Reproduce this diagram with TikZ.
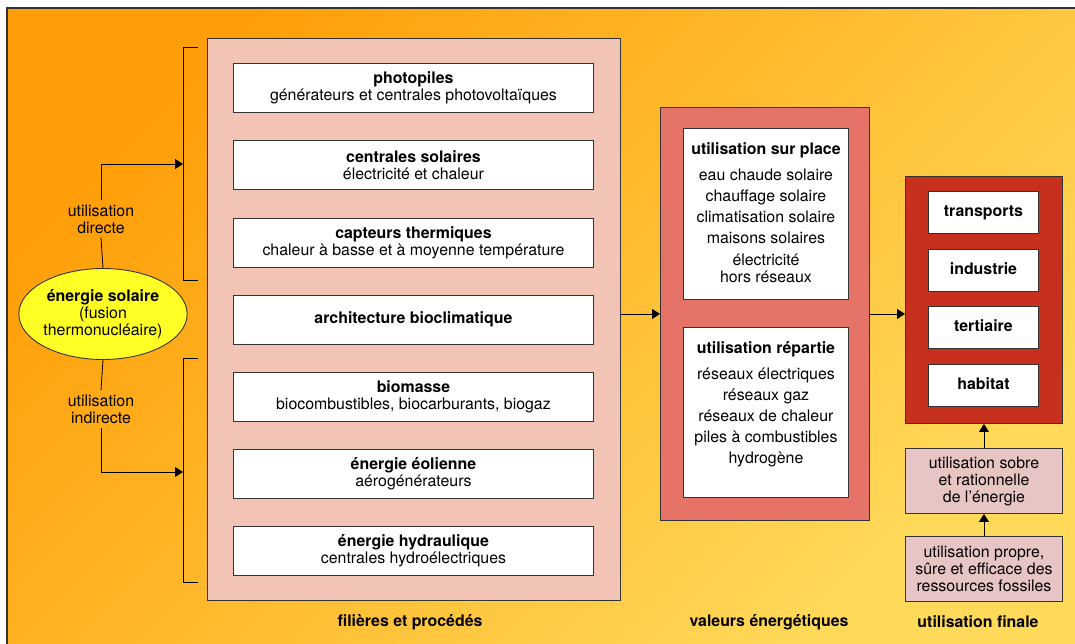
\documentclass[tikz,border=0pt]{standalone}
\usepackage{fontspec}
\setmainfont{TeX Gyre Heros}
\usetikzlibrary{arrows.meta,shapes.geometric,calc}
\definecolor{bgA}{HTML}{FF9E08}
\definecolor{bgB}{HTML}{FFDA5A}
\definecolor{panelA}{HTML}{F2C4B5}
\definecolor{panelB}{HTML}{E57368}
\definecolor{panelC}{HTML}{C8301E}
\definecolor{smallbox}{HTML}{E8C5C5}
\definecolor{sun}{HTML}{FFFF26}
\definecolor{edge}{HTML}{333333}
\begin{document}
\begin{tikzpicture}[x=1pt,y=-1pt,
  font=\fontsize{15.9}{17.5}\selectfont,
  box/.style={draw=edge, line width=0.9pt, inner sep=2pt, anchor=north west, align=center},
  wbox/.style={box, fill=white},
  fixed/.style={text height=11pt, text depth=3.5pt},
  txt/.style={inner sep=0pt, align=center},
  conn/.style={draw=black, line width=0.8pt},
  arr/.style={conn, -{Triangle[length=8pt,width=10pt]}},
  caption/.style={font=\fontsize{15.9}{17.5}\selectfont\bfseries}
]
\useasboundingbox (0,0) rectangle (1075,644);
% background
\shade[top color=bgA, bottom color=bgB, shading angle=45] (7,8) rectangle (1075,644);
\draw[line width=1.6pt, draw=edge] (7,644) -- (7,8) -- (1075,8);

% panels
\node[box, fill=panelA, minimum width=413pt, minimum height=562pt] (filieres) at (207,38) {};
\node[box, fill=panelB, minimum width=209pt, minimum height=413pt] (valeurs) at (660,107) {};
\node[box, fill=panelC, minimum width=157pt, minimum height=247pt] (finale) at (905,176) {};

% left column boxes
\node[wbox, minimum width=360pt, minimum height=49pt] (photo) at (233,63)
  {\textbf{photopiles}\\générateurs et centrales photovoltaïques};
\node[wbox, minimum width=360pt, minimum height=49pt] (centrales) at (233,140)
  {\textbf{centrales solaires}\\électricité et chaleur};
\node[wbox, minimum width=360pt, minimum height=49pt] (capteurs) at (233,218)
  {\textbf{capteurs thermiques}\\chaleur à basse et à moyenne température};
\node[wbox, minimum width=360pt, minimum height=49pt, fixed] (archi) at (233,295)
  {\textbf{architecture bioclimatique}};
\node[wbox, minimum width=360pt, minimum height=49pt] (biomasse) at (233,372)
  {\textbf{biomasse}\\biocombustibles, biocarburants, biogaz};
\node[wbox, minimum width=360pt, minimum height=49pt] (eolienne) at (233,449)
  {\textbf{énergie éolienne}\\aérogénérateurs};
\node[wbox, minimum width=360pt, minimum height=49pt] (hydro) at (233,526)
  {\textbf{énergie hydraulique}\\centrales hydroélectriques};

% middle boxes
\node[wbox, minimum width=165pt, minimum height=171pt] (surplace) at (683,128) {};
\node[txt, anchor=north] (surplacetxt) at ([yshift=-14pt]surplace.north)
  {\textbf{utilisation sur place}\\[8.5pt]eau chaude solaire\\[3.5pt]chauffage solaire\\[3.5pt]climatisation solaire\\[3.5pt]maisons solaires\\[4.5pt]électricité\\[-0.5pt]hors réseaux};
\node[wbox, minimum width=165pt, minimum height=170pt] (repartie) at (683,327) {};
\node[txt, anchor=north] (repartietxt) at ([yshift=-14pt]repartie.north)
  {\textbf{utilisation répartie}\\[8.5pt]réseaux électriques\\[3.5pt]réseaux gaz\\[3.5pt]réseaux de chaleur\\[3.5pt]piles à combustibles\\[3.5pt]hydrogène};

% right boxes
\node[wbox, fixed, minimum width=110pt, minimum height=42pt] (transports) at (928,191) {\textbf{transports}};
\node[wbox, fixed, minimum width=110pt, minimum height=42pt] (industrie) at (928,249) {\textbf{industrie}};
\node[wbox, fixed, minimum width=110pt, minimum height=42pt] (tertiaire) at (928,306) {\textbf{tertiaire}};
\node[wbox, fixed, minimum width=110pt, minimum height=42pt] (habitat) at (928,364) {\textbf{habitat}};
\node[box, fill=smallbox, minimum width=157pt, minimum height=65pt, font=\fontsize{15.9}{17}\selectfont] (sobre) at (905,448)
  {utilisation sobre\\et rationnelle\\de l’énergie};
\node[box, fill=smallbox, minimum width=157pt, minimum height=65pt, font=\fontsize{15.9}{17}\selectfont] (propre) at (905,536)
  {utilisation propre,\\sûre et efficace des\\ressources fossiles};

% sun ellipse
\node[ellipse, draw=edge, line width=0.9pt, fill=sun, minimum width=154pt, minimum height=91pt, inner sep=0pt, align=center, font=\fontsize{15.9}{17}\selectfont] (soleil) at (103,314)
  {\textbf{énergie solaire}\\(fusion\\thermonucléaire)};

% labels
\node[txt, inner sep=4pt, font=\fontsize{15.9}{17}\selectfont] (ldir) at (101,219) {utilisation\\directe};
\node[txt, inner sep=4pt, font=\fontsize{15.9}{17}\selectfont] (lind) at (101,409) {utilisation\\indirecte};

% brackets
\coordinate (b1a) at (198,47);
\coordinate (b1b) at (198,280);
\coordinate (b1m) at (183,164);
\coordinate (b2a) at (198,358);
\coordinate (b2b) at (198,582);
\coordinate (b2m) at (183,472);
\draw[conn] (b1a) -- ++(-15,0) |- (b1b);
\draw[conn] (b2a) -- ++(-15,0) |- (b2b);

% connectors
\draw[conn] (soleil.north) -- (ldir.south);
\draw[arr] (ldir.north) |- (b1m);
\draw[conn] (soleil.south) -- (lind.north);
\draw[arr] (lind.south) |- (b2m);
\draw[arr] (valeurs.west -| filieres.east) -- (valeurs.west);
\draw[arr] (valeurs.east) -- (valeurs.east -| finale.west);
\draw[arr] (propre.north) -- (sobre.south);
\draw[arr] (sobre.north) -- (finale.south);

% captions
\node[caption] (capA) at (410,622) {filières et procédés};
\node[caption] (capB) at (769,622) {valeurs énergétiques};
\node[caption] (capC) at (978,622) {utilisation finale};
\end{tikzpicture}
\end{document}
